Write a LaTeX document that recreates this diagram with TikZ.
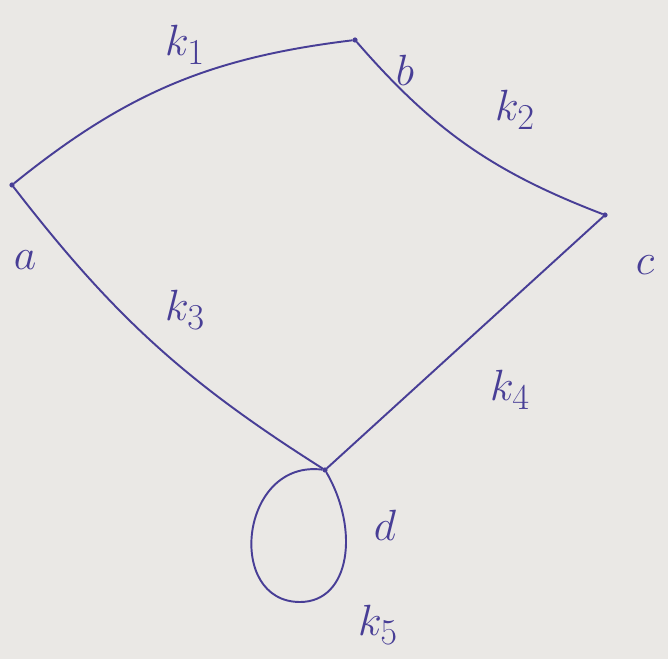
\documentclass[tikz,border=0pt]{standalone}
\usepackage{amsmath, amssymb}
\usepackage{tikz}
\usetikzlibrary{arrows.meta, positioning, calc}
\usepackage{xcolor}
\definecolor{penblue}{RGB}{72, 62, 150}
\definecolor{paper}{RGB}{234, 232, 229}
\tikzset{
  vertex/.style={circle, draw=penblue, fill=penblue, inner sep=0pt, minimum size=2.5pt},
  edgeline/.style={draw=penblue, line width=1.1pt},
  lbl/.style={text=penblue, font=\Huge},
}

\begin{document}
\begin{tikzpicture}[x=0.02cm, y=0.02cm]
    \fill[paper] (0,0) rectangle (668,659);
    \useasboundingbox (0,0) rectangle (668,659);

    % vertices
    \node[vertex] (a) at (12,474) {};
    \node[vertex] (b) at (355,619) {};
    \node[vertex] (c) at (605,444) {};
    \node[vertex] (d) at (325,189) {};
    \coordinate (loopbot) at (300,57);

    % vertex names
    \node[lbl] (na) at (25,399) {$a$};
    \node[lbl] (nb) at (405,589) {$b$};
    \node[lbl] (nc) at (645,394) {$c$};
    \node[lbl] (nd) at (385,134) {$d$};

    % edges
    \draw[edgeline] (a) to[bend left=16] (b);
    \draw[edgeline] (b) to[bend right=14] (c);
    \draw[edgeline] (a) to[bend right=10] (d);
    \draw[edgeline] (c) -- (d);
    \draw[edgeline] (d) .. controls +(35,-60) and +(50,0) .. (loopbot)
                        .. controls +(-75,0) and +(-85,11) .. (d);

    % edge names
    \node[lbl] (k1) at (185,614) {$k_1$};
    \node[lbl] (k2) at (515,549) {$k_2$};
    \node[lbl] (k3) at (185,349) {$k_3$};
    \node[lbl] (k4) at (510,269) {$k_4$};
    \node[lbl] (k5) at (378,34) {$k_5$};
  \end{tikzpicture}
\end{document}
